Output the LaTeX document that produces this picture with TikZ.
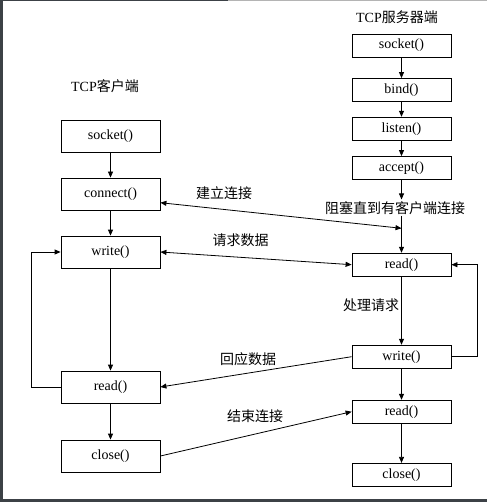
\documentclass[tikz,border=0pt]{standalone}
\usepackage{fontspec}
\setmainfont{Liberation Serif}
\newfontfamily\cjk{Noto Sans CJK SC}
\usetikzlibrary{arrows.meta}
\definecolor{frame}{HTML}{3C4146}
\definecolor{lightframe}{HTML}{B4B4B4}
\tikzset{
  box/.style={draw=black, line width=0.8pt, minimum width=99pt, inner sep=0pt, font=\fontsize{14}{16}\selectfont},
  lbox/.style={box, minimum height=32pt},
  sbox/.style={box, minimum height=23pt},
  lbl/.style={inner sep=0pt, font=\fontsize{14}{16}\selectfont},
  arr/.style={line width=0.8pt, -{Triangle[length=6pt,width=5pt]}},
  darr/.style={line width=0.8pt, {Triangle[length=6pt,width=5pt]}-{Triangle[length=6pt,width=5pt]}},
  ln/.style={line width=0.8pt}
}
\begin{document}
\begin{tikzpicture}[x=1pt,y=-1pt]
\useasboundingbox (0,0) rectangle (487,502);
% frame
\fill[frame] (0,0) rectangle (3,502);
\fill[frame] (0,499) rectangle (487,502);
\fill[frame] (0,0) rectangle (228,1.5);
\fill[lightframe] (228,0) rectangle (487,1.5);
% titles
\node[lbl] (tclient) at (105,85.7) {TCP{\cjk 客户端}};
\node[lbl] (tserver) at (397,16.7) {TCP{\cjk 服务器端}};
% client boxes
\node[lbox] (lsocket) at (110.5,136) {socket()};
\node[lbox] (lconnect) at (110.5,194) {connect()};
\node[lbox] (lwrite) at (110.5,252) {write()};
\node[lbox] (lread) at (110.5,387) {read()};
\node[lbox] (lclose) at (110.5,456) {close()};
% server boxes
\node[sbox] (ssocket) at (401.5,45.5) {socket()};
\node[sbox] (sbind) at (401.5,90) {bind()};
\node[sbox] (slisten) at (401.5,128.7) {listen()};
\node[sbox] (saccept) at (401.5,168) {accept()};
\node[sbox] (sread) at (401.5,264.7) {read()};
\node[sbox] (swrite) at (401.5,356.7) {write()};
\node[sbox] (sread2) at (401.5,411.7) {read()};
\node[sbox] (sclose) at (401.5,474.8) {close()};
% labels
\node[lbl] (lconn) at (224,192.7) {\cjk 建立连接};
\node[lbl] (lblock) at (395,208.3) {\cjk 阻塞直到有客户端连接};
\node[lbl] (lreq) at (240.7,240) {\cjk 请求数据};
\node[lbl] (lproc) at (371,305) {\cjk 处理请求};
\node[lbl] (lresp) at (248,359.3) {\cjk 回应数据};
\node[lbl] (lend) at (255,415.7) {\cjk 结束连接};
\coordinate (cjoin) at (401.5,228.3);
% client flow
\draw[arr] (lsocket) -- (lconnect);
\draw[arr] (lconnect) -- (lwrite);
\draw[arr] (lwrite) -- (lread);
\draw[arr] (lread) -- (lclose);
\draw[arr] (lread.west) -- ++(-29.3,0) |- (lwrite.west);
% server flow
\draw[arr] (ssocket) -- (sbind);
\draw[arr] (sbind) -- (slisten);
\draw[arr] (slisten) -- (saccept);
\draw[arr] (saccept.south) -- (saccept.south |- 0,199.5);
\draw[arr] (saccept.south |- 0,216) -- (sread.north);
\draw[arr] (sread) -- (swrite);
\draw[arr] (swrite) -- (sread2);
\draw[arr] (sread2) -- (sclose);
\draw[arr] (swrite.east) -- ++(26,0) |- (sread.east);
% exchanges
\draw[darr] ([yshift=-8.7pt]lconnect.east) -- (cjoin);
\draw[darr] (lwrite.east) -- (sread.west);
\draw[arr] (swrite.west) -- (lread.east);
\draw[arr] (lclose.east) -- (sread2.west);
\end{tikzpicture}
\end{document}
